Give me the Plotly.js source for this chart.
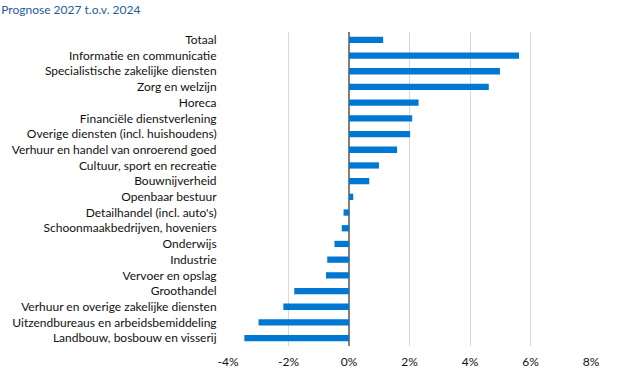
<!DOCTYPE html>
<html><head><meta charset="utf-8">
<script src="https://cdn.plot.ly/plotly-3.0.1.min.js"></script>
<style>html,body{margin:0;padding:0;background:#fff}#chart{width:625px;height:371px}</style>
</head><body><div id="chart"></div>
<script>
const categories = [
  "Totaal",
  "Informatie en communicatie",
  "Specialistische zakelijke diensten",
  "Zorg en welzijn",
  "Horeca",
  "Financiële dienstverlening",
  "Overige diensten (incl. huishoudens)",
  "Verhuur en handel van onroerend goed",
  "Cultuur, sport en recreatie",
  "Bouwnijverheid",
  "Openbaar bestuur",
  "Detailhandel (incl. auto's)",
  "Schoonmaakbedrijven, hoveniers",
  "Onderwijs",
  "Industrie",
  "Vervoer en opslag",
  "Groothandel",
  "Verhuur en overige zakelijke diensten",
  "Uitzendbureaus en arbeidsbemiddeling",
  "Landbouw, bosbouw en visserij"
];
const values = [1.13, 5.62, 4.99, 4.62, 2.30, 2.09, 2.02, 1.59, 0.99, 0.67, 0.14,
  -0.18, -0.24, -0.48, -0.72, -0.76, -1.81, -2.17, -2.99, -3.46];
const tickVals = [-4, -2, 0, 2, 4, 6, 8];
const tickText = ["-4%", "-2%", "0%", "2%", "4%", "6%", "8%"];
const titleText = "Prognose 2027 t.o.v. 2024";

const font = "Lato, 'Noto Sans', sans-serif";
Plotly.newPlot('chart', [{
  type: 'bar', orientation: 'h',
  x: values, y: categories,
  marker: {color: '#0078d2'},
  width: 0.4,
  hoverinfo: 'x+y'
}], {
  width: 625, height: 371,
  margin: {l: 228, r: 34, t: 32, b: 25},
  paper_bgcolor: '#fff', plot_bgcolor: '#fff',
  font: {family: font, size: 12, color: '#111'},
  title: {text: titleText, font: {family: font, size: 12, color: '#1f5c99'},
    xref: 'container', yref: 'container', x: 0.002, xanchor: 'left', y: 0.985, yanchor: 'top'},
  xaxis: {range: [-4, 8], tickvals: tickVals, ticktext: tickText,
    showgrid: true, gridcolor: '#d9d9d9', gridwidth: 1,
    zeroline: true, zerolinecolor: '#7f7f7f', zerolinewidth: 2,
    showline: false, ticks: 'outside', ticklen: 5, tickcolor: 'rgba(0,0,0,0)',
    tickfont: {size: 12, color: '#111'}, fixedrange: true},
  yaxis: {autorange: 'reversed', type: 'category', showgrid: false, zeroline: false,
    showline: false, ticks: 'outside', ticklen: 8, tickcolor: 'rgba(0,0,0,0)',
    tickfont: {size: 12, color: '#111'}, fixedrange: true},
  showlegend: false, bargap: 0.6
}, {displayModeBar: false, staticPlot: true});
</script></body></html>
